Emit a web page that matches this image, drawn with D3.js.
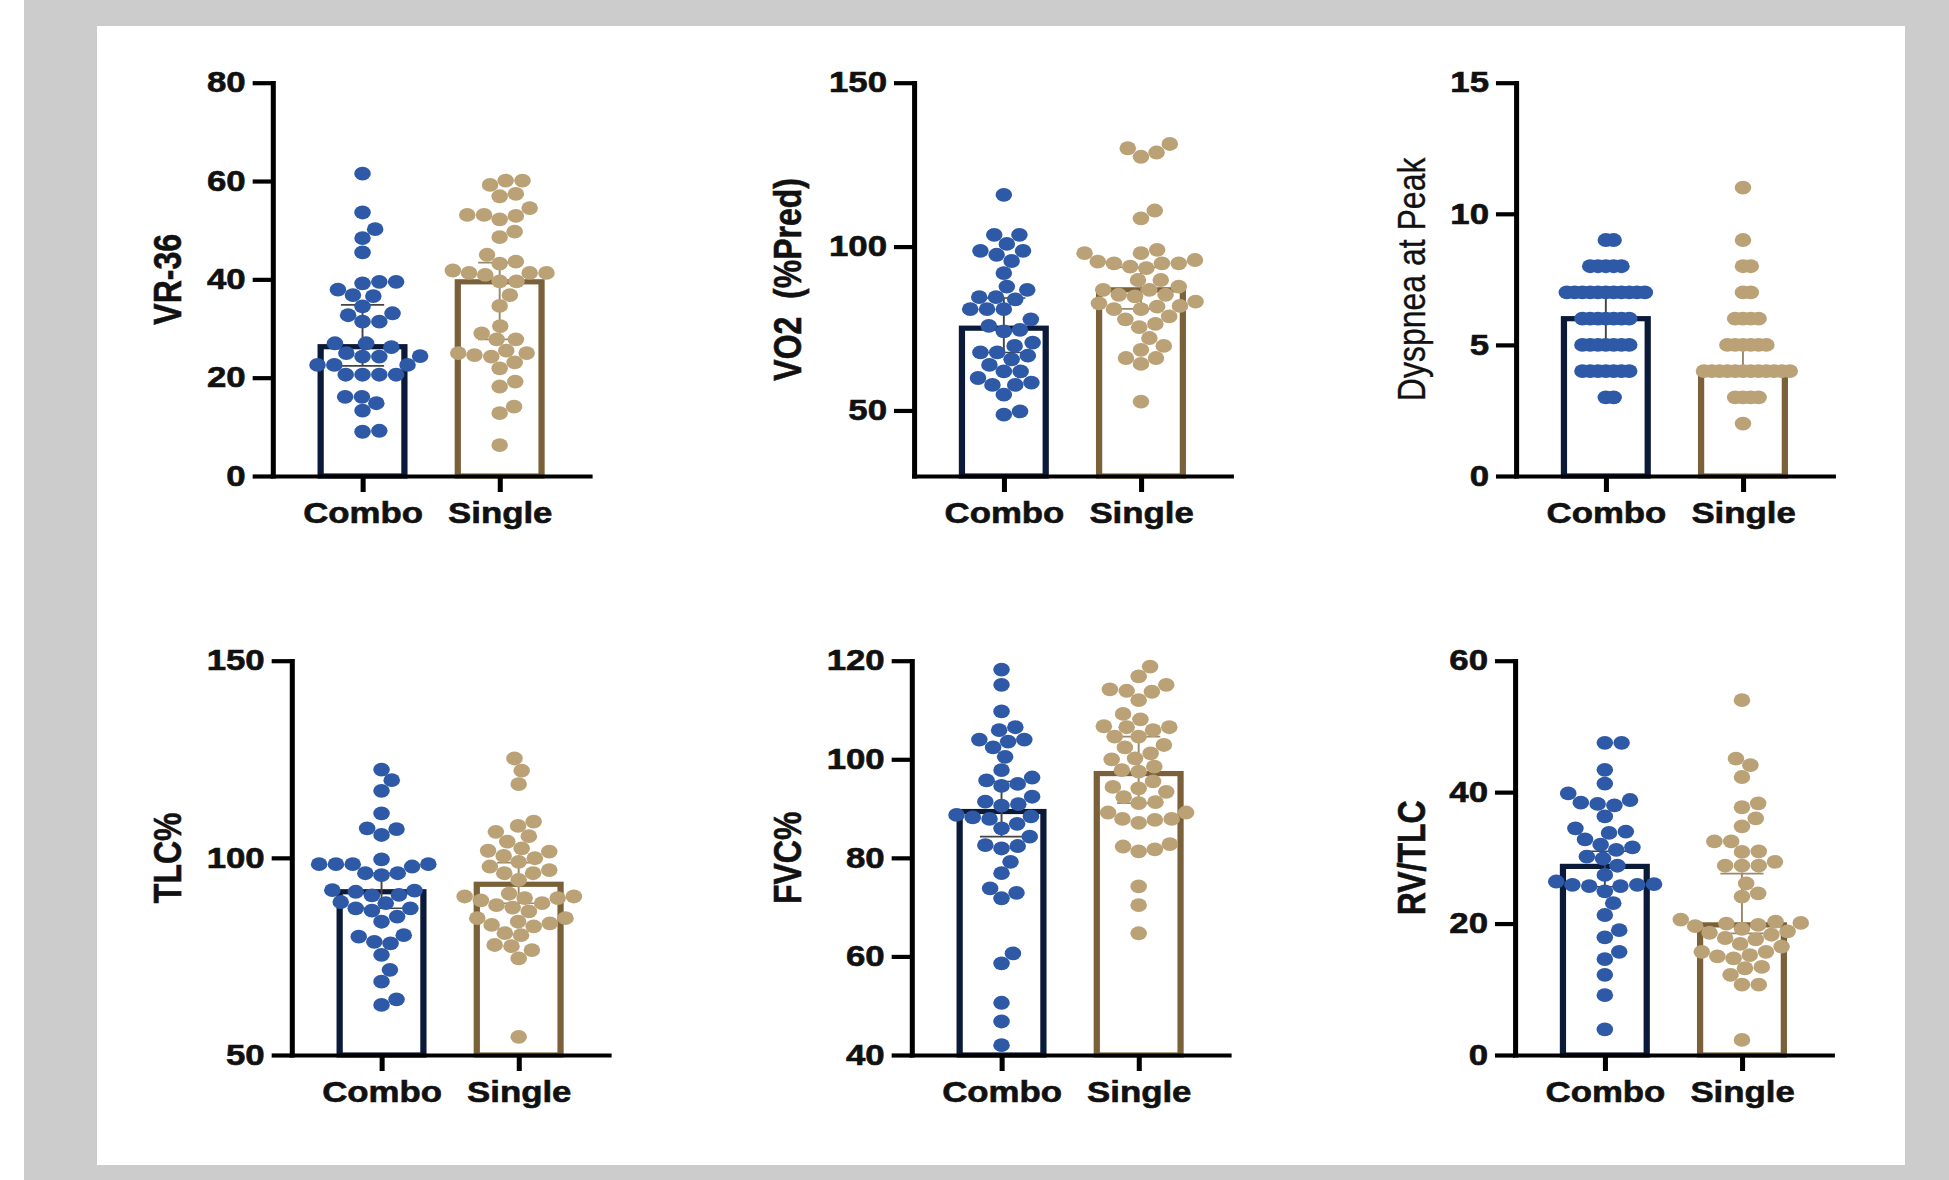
<!DOCTYPE html>
<html>
<head>
<meta charset="utf-8">
<script src="https://cdn.jsdelivr.net/npm/d3@7"></script>
<style>
  body { margin: 0; background: #fff; }
  text { font-family: "Liberation Sans", Arial, sans-serif; }
</style>
</head>
<body>
<svg id="chart" width="1949" height="1180"></svg>
<script>
// groups on the x axis
var groups = ["Combo", "Single"];

// VR-36
var vr36Combo = [61.5, 53.6, 50.2, 48.4, 45.5, 39.5, 39.5, 39.2, 37.9, 36.8, 36.6, 34.5, 33.1, 32.7, 31.4, 31.4,
  27.0, 27.0, 26.2, 25.0, 24.4, 24.3, 24.3, 22.6, 22.6, 22.6, 20.6, 20.6, 20.6, 20.6, 16.1, 16.1, 14.8, 13.3, 9.2, 9.0];
var vr36Single = [60.1, 59.2, 60.1, 56.9, 57.4, 54.5, 53.1, 53.1, 52.9, 52.2, 49.7, 48.6, 45.0, 43.6, 43.2, 41.3,
  41.8, 41.3, 41.3, 40.9, 39.6, 39.6, 36.8, 34.6, 30.5, 29.0, 27.8, 27.8, 25.5, 24.3, 24.6, 25.0, 25.0, 23.1, 21.9,
  18.2, 19.2, 12.8, 14.1, 6.3];
var vr36Bars = [26.3, 39.5];
var vr36Ci = [[22.4, 34.8], [27.8, 43.4]];
var vr36Ticks = [0, 20, 40, 60, 80];

// VO2 (%Pred)
var vo2Combo = [115.8, 103.6, 103.6, 100.8, 98.7, 98.7, 97.5, 95.6, 91.9, 87.8, 86.8, 84.6, 84.6, 83.9, 80.9, 80.9,
  80.9, 77.8, 75.8, 74.1, 74.6, 69.7, 70.7, 67.7, 67.7, 65.6, 66.7, 63.9, 61.9, 61.9, 59.9, 57.8, 57.8, 58.5, 54.8,
  48.7, 49.7];
var vo2Single = [131.3, 130.0, 127.4, 128.7, 111.0, 108.6, 99.0, 98.0, 98.0, 94.9, 95.4, 95.9, 94.9, 94.9, 93.9,
  93.4, 89.8, 89.8, 87.8, 84.8, 85.3, 85.3, 86.8, 86.8, 80.9, 81.9, 80.9, 81.7, 83.2, 82.7, 77.8, 75.4, 76.4, 78.7,
  72.1, 68.5, 69.7, 66.0, 66.0, 64.2, 52.7];
var vo2Bars = [75.1, 86.8];
var vo2Ci = [[67.7, 84.3], [81.0, 93.7]];
var vo2Ticks = [50, 100, 150];

// Dyspnea at Peak
var dysCombo = [9, 9, 8, 8, 8, 8, 8, 7, 7, 7, 7, 7, 7, 7, 7, 7, 7, 7, 6, 6, 6, 6, 6, 6, 6,
  5, 5, 5, 5, 5, 5, 5, 4, 4, 4, 4, 4, 4, 4, 3, 3];
var dysSingle = [11, 9, 8, 8, 7, 7, 6, 6, 6, 6, 5, 5, 5, 5, 5, 5, 4, 4, 4, 4, 4, 4, 4, 4, 4, 4, 4, 4,
  3, 3, 3, 3, 2];
var dysBars = [6, 4];
var dysCi = [[5, 7], [4, 5]];
var dysTicks = [0, 5, 10, 15];

// TLC%
var tlcCombo = [122.4, 119.7, 117.0, 111.3, 107.5, 107.3, 105.8, 98.4, 98.4, 98.4, 98.4, 97.8, 99.6, 96.1, 96.1,
  95.6, 91.7, 91.4, 91.8, 90.6, 90.5, 88.8, 88.5, 87.2, 87.2, 86.6, 83.8, 85.1, 78.3, 78.7, 80.4, 80.0, 75.4, 71.6,
  68.6, 64.1, 62.7];
var tlcSingle = [125.2, 122.1, 118.7, 109.2, 108.1, 106.6, 105.5, 104.1, 102.4, 101.6, 101.8, 100.5, 99.9, 99.0,
  97.8, 96.9, 96.1, 96.1, 94.4, 90.2, 90.9, 89.2, 89.8, 89.8, 90.2, 88.5, 88.0, 87.4, 86.4, 83.8, 84.7, 83.4, 83.0,
  82.6, 84.7, 80.9, 80.4, 77.6, 77.9, 76.6, 74.5, 54.6];
var tlcBars = [91.4, 93.3];
var tlcCi = [[87.2, 96.1], [88.5, 98.8]];
var tlcTicks = [50, 100, 150];

// FVC%
var fvcCombo = [118.2, 115.1, 109.7, 105.9, 106.5, 103.6, 104.0, 104.0, 102.4, 100.5, 97.8, 95.7, 95.0, 96.3, 94.6,
  90.9, 91.4, 92.4, 90.6, 88.4, 88.2, 88.7, 87.9, 86.0, 86.9, 84.3, 82.4, 82.6, 81.9, 79.2, 76.9, 72.9, 71.8, 73.8,
  60.6, 58.6, 50.6, 46.8, 42.0];
var fvcSingle = [118.8, 116.8, 115.1, 113.7, 114.2, 113.9, 112.0, 109.2, 108.1, 106.5, 106.5, 106.7, 105.9, 104.6,
  104.6, 102.4, 102.9, 101.2, 100.2, 100.0, 98.5, 97.8, 97.5, 95.5, 94.4, 94.1, 93.4, 92.3, 91.3, 91.1, 89.2, 87.9,
  87.9, 87.1, 87.7, 89.2, 82.8, 82.3, 81.3, 81.7, 74.2, 70.4, 64.7];
var fvcBars = [89.4, 97.1];
var fvcCi = [[84.3, 95.5], [91.1, 104.6]];
var fvcTicks = [40, 60, 80, 100, 120];

// RV/TLC
var rvCombo = [47.5, 47.5, 43.4, 41.3, 39.8, 38.0, 38.8, 38.4, 38.2, 36.3, 34.5, 33.8, 34.0, 32.8, 32.0, 31.6, 31.2,
  30.2, 29.9, 28.8, 27.4, 26.4, 26.0, 25.7, 25.9, 25.7, 25.9, 24.9, 23.1, 21.3, 19.0, 17.9, 15.7, 14.6, 12.2, 9.1, 3.9];
var rvSingle = [54.0, 45.1, 44.1, 42.3, 38.3, 37.7, 36.0, 34.8, 32.5, 32.5, 31.0, 30.9, 29.4, 28.8, 28.8, 28.8, 26.1,
  24.1, 24.6, 20.1, 20.0, 20.3, 19.6, 19.8, 19.2, 20.6, 18.6, 17.8, 18.3, 17.6, 18.8, 15.7, 16.5, 15.7, 16.9, 14.7,
  15.0, 15.2, 13.4, 13.2, 12.2, 10.7, 10.7, 2.3];
var rvBars = [28.7, 19.8];
var rvCi = [[25.6, 31.0], [18.5, 27.6]];
var rvTicks = [0, 20, 40, 60];

// the original picture is stretched sideways, so each panel is drawn narrow and scaled back out
var SX = 1.2, R = 6.9;
var dotColor = ["#2e59a7", "#baa176"],
    edgeColor = ["#0b1a38", "#7a6139"],
    errColor = ["#444444", "#9a8a6c"];

var panels = [
  {title: "VR-36", bold: true, vals: [vr36Combo, vr36Single], bars: vr36Bars, ci: vr36Ci, domain: [0, 80], ticks: vr36Ticks, ax: 272.7, top: 82.7, bottom: 476, tx: 168, sq: 1},
  {title: "VO2  (%Pred)", bold: true, vals: [vo2Combo, vo2Single], bars: vo2Bars, ci: vo2Ci, domain: [30, 150], ticks: vo2Ticks, ax: 914, top: 82.7, bottom: 476, tx: 788, sq: 1},
  {title: "Dyspnea at Peak", bold: false, vals: [dysCombo, dysSingle], bars: dysBars, ci: dysCi, domain: [0, 15], ticks: dysTicks, ax: 1516, top: 82.7, bottom: 476, tx: 1412, sq: 0.45},
  {title: "TLC%", bold: true, vals: [tlcCombo, tlcSingle], bars: tlcBars, ci: tlcCi, domain: [50, 150], ticks: tlcTicks, ax: 291.7, top: 660.7, bottom: 1055, tx: 168, sq: 1},
  {title: "FVC%", bold: true, vals: [fvcCombo, fvcSingle], bars: fvcBars, ci: fvcCi, domain: [40, 120], ticks: fvcTicks, ax: 911.7, top: 660.7, bottom: 1055, tx: 788, sq: 1},
  {title: "RV/TLC", bold: true, vals: [rvCombo, rvSingle], bars: rvBars, ci: rvCi, domain: [0, 60], ticks: rvTicks, ax: 1515, top: 660.7, bottom: 1055, tx: 1412, sq: 1}
];

var svg = d3.select("#chart");

svg.append("rect").attr("width", 1949).attr("height", 1180).attr("fill", "#fff");
svg.append("rect").attr("x", 24).attr("y", 0).attr("width", 1925).attr("height", 1180).attr("fill", "#cccccc");
svg.append("rect").attr("x", 97).attr("y", 26).attr("width", 1808).attr("height", 1139).attr("fill", "#fff");

// simple beeswarm: each point takes the free spot closest to the centre line
function swarm(values, y, sq) {
  var d = 2 * R, placed = [], out = [];
  var order = values.map(function(v, i) { return i; })
    .sort(function(a, b) { return values[a] - values[b]; });
  order.forEach(function(i) {
    var cy = y(values[i]);
    var near = placed.filter(function(p) { return Math.abs(p.cy - cy) < d; });
    var off = 0;
    for (var k = 0; k < 600; k++) {
      off = (k % 2 ? 1 : -1) * Math.ceil(k / 2) * 0.5;
      var ok = near.every(function(p) {
        var dx = (p.x - off) / sq, dy = p.cy - cy;
        return dx * dx + dy * dy >= d * d * 0.97;
      });
      if (ok) break;
    }
    placed.push({x: off, cy: cy});
    out[i] = {x: off, cy: cy, v: values[i]};
  });
  return out;
}

panels.forEach(function(p) {
  var y = d3.scaleLinear().domain(p.domain).range([p.bottom, p.top]);
  var x = d3.scalePoint().domain(groups).range([0, 264]).padding(0.655);

  var g = svg.append("g").attr("transform", "translate(" + p.ax + ",0) scale(" + SX + ",1)");

  // bars
  g.selectAll("rect.bar")
    .data(groups)
    .enter().append("rect")
      .attr("class", "bar")
      .attr("x", function(d) { return x(d) - 34.9; })
      .attr("width", 69.8)
      .attr("y", function(d, i) { return y(p.bars[i]); })
      .attr("height", function(d, i) { return p.bottom - y(p.bars[i]); })
      .attr("fill", "#fff")
      .attr("stroke", function(d, i) { return edgeColor[i]; })
      .attr("stroke-width", 5.2);

  // error bars
  groups.forEach(function(grp, i) {
    var cx = x(grp), lo = y(p.ci[i][0]), hi = y(p.ci[i][1]);
    var eg = g.append("g").attr("stroke", errColor[i]).attr("stroke-width", 1.6);
    eg.append("line").attr("x1", cx).attr("x2", cx).attr("y1", lo).attr("y2", hi);
    eg.append("line").attr("x1", cx - 18).attr("x2", cx + 18).attr("y1", lo).attr("y2", lo);
    eg.append("line").attr("x1", cx - 18).attr("x2", cx + 18).attr("y1", hi).attr("y2", hi);
  });

  // points
  groups.forEach(function(grp, i) {
    g.append("g").selectAll("circle")
      .data(swarm(p.vals[i], y, p.sq))
      .enter().append("circle")
        .attr("cx", function(d) { return x(grp) + d.x; })
        .attr("cy", function(d) { return d.cy; })
        .attr("r", R)
        .attr("fill", dotColor[i]);
  });

  // axes
  var yAxis = d3.axisLeft(y).tickValues(p.ticks).tickSize(16.7).tickSizeOuter(0).tickPadding(5.8);
  var xAxis = d3.axisBottom(x).tickSize(16).tickSizeOuter(0).tickPadding(10.5);

  var ya = g.append("g").call(yAxis);
  var xa = g.append("g").attr("transform", "translate(0," + p.bottom + ")").call(xAxis);

  [ya, xa].forEach(function(a) {
    a.select(".domain").attr("stroke", "#000").attr("stroke-width", 4.2).attr("stroke-linecap", "square");
    a.selectAll(".tick line").attr("stroke", "#000").attr("stroke-width", 4.2);
    a.selectAll(".tick text")
      .attr("fill", "#111")
      .attr("stroke", "#111")
      .attr("stroke-width", 0.6)
      .style("font-size", "29px")
      .style("font-weight", "bold")
      .style("font-family", "'Liberation Sans', Arial, sans-serif");
  });

  // axis title
  svg.append("text")
    .attr("transform", "translate(" + p.tx + "," + ((p.top + p.bottom) / 2) + ") scale(" + SX + ",1) rotate(-90)")
    .attr("text-anchor", "middle")
    .attr("dy", "0.35em")
    .style("white-space", "pre")
    .style("font-size", "32px")
    .style("font-weight", p.bold ? "bold" : "normal")
    .attr("fill", "#111")
    .attr("stroke", "#111")
    .attr("stroke-width", p.bold ? 0.5 : 0.3)
    .text(p.title);
});
</script>
</body>
</html>
